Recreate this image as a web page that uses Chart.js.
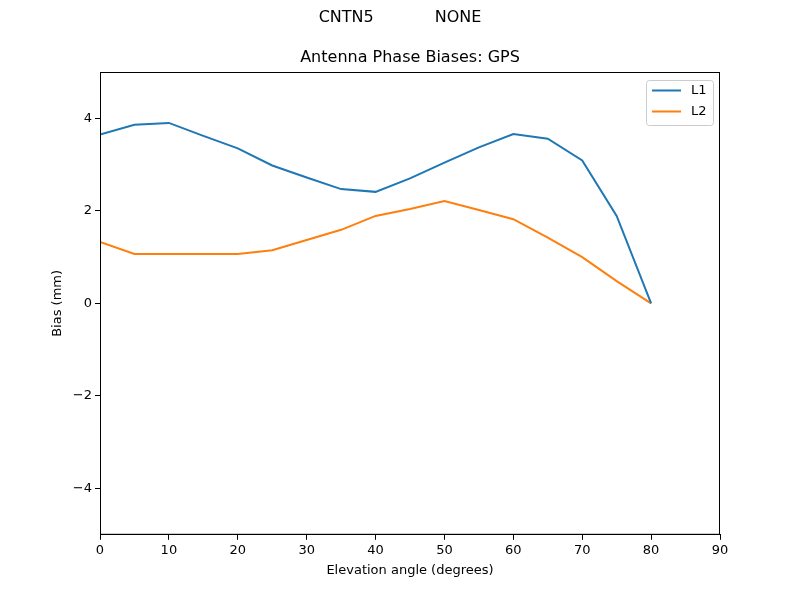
<!DOCTYPE html>
<html>
<head>
<meta charset="utf-8">
<script src="https://cdn.jsdelivr.net/npm/chart.js@4"></script>
<style>
  html, body { margin: 0; padding: 0; background: #fff; }
  #wrap { width: 800px; height: 600px; }
</style>
</head>
<body>
<div id="wrap"><canvas id="biasChart" width="800" height="600"></canvas></div>
<script>
// elevation angles (degrees)
const elevation = [0, 5, 10, 15, 20, 25, 30, 35, 40, 45, 50, 55, 60, 65, 70, 75, 80];
// phase bias values (mm)
const l1Bias = [3.65, 3.86, 3.90, 3.62, 3.35, 2.98, 2.72, 2.47, 2.41, 2.70, 3.04, 3.37, 3.66, 3.56, 3.09, 1.89, 0.0];
const l2Bias = [1.33, 1.07, 1.07, 1.07, 1.07, 1.15, 1.37, 1.59, 1.89, 2.04, 2.21, 2.02, 1.82, 1.42, 1.00, 0.48, 0.0];
const yTicks = [-4, -2, 0, 2, 4];
const suptitle = 'CNTN5            NONE';
const plotTitle = 'Antenna Phase Biases: GPS';

Chart.defaults.font.family = 'DejaVu Sans';
Chart.defaults.font.size = 13;
Chart.defaults.color = '#000';

const toPoints = vals => elevation.map((e, i) => ({ x: e, y: vals[i] }));

// matplotlib style titles, box round the axes and legend inside it
const framePlugin = {
  id: 'frame',
  afterDraw(chart) {
    const { ctx, chartArea: a, width } = chart;
    ctx.save();
    ctx.fillStyle = '#000';
    ctx.font = '16px "DejaVu Sans"';
    ctx.textAlign = 'center';
    ctx.textBaseline = 'middle';
    ctx.fillText(suptitle, width / 2, 18);
    ctx.fillText(plotTitle, (a.left + a.right) / 2, 58);

    ctx.strokeStyle = '#000';
    ctx.lineWidth = 1;
    ctx.strokeRect(a.left + 0.5, a.top + 0.5, a.right - a.left - 1, a.bottom - a.top - 1);

    const bx = a.right - 74, by = a.top + 8, bw = 67, bh = 45;
    ctx.fillStyle = 'rgba(255,255,255,0.8)';
    ctx.strokeStyle = '#cccccc';
    ctx.beginPath();
    ctx.roundRect(bx + 0.5, by + 0.5, bw, bh, 3);
    ctx.fill();
    ctx.stroke();

    ctx.textAlign = 'left';
    ctx.font = '13px "DejaVu Sans"';
    chart.data.datasets.forEach((ds, i) => {
      const y = by + 10.5 + i * 21;
      ctx.strokeStyle = ds.borderColor;
      ctx.lineWidth = 2;
      ctx.beginPath();
      ctx.moveTo(bx + 6, y);
      ctx.lineTo(bx + 35, y);
      ctx.stroke();
      ctx.fillStyle = '#000';
      ctx.fillText(ds.label, bx + 45, y);
    });
    ctx.restore();
  }
};

new Chart(document.getElementById('biasChart').getContext('2d'), {
  type: 'line',
  data: {
    datasets: [{
      label: 'L1',
      data: toPoints(l1Bias),
      borderColor: '#1f77b4',
      borderWidth: 2,
      pointRadius: 0,
      tension: 0
    }, {
      label: 'L2',
      data: toPoints(l2Bias),
      borderColor: '#ff7f0e',
      borderWidth: 2,
      pointRadius: 0,
      tension: 0
    }]
  },
  options: {
    responsive: false,
    animation: false,
    layout: { padding: { left: 50, right: 80, top: 72, bottom: 18 } },
    plugins: {
      legend: { display: false },
      tooltip: { enabled: false },
      title: { display: false }
    },
    scales: {
      x: {
        type: 'linear',
        min: 0,
        max: 90,
        ticks: { stepSize: 10, padding: 3 },
        grid: { drawOnChartArea: false, color: '#000', tickLength: 5 },
        border: { color: '#000' },
        title: { display: true, text: 'Elevation angle (degrees)', padding: { top: 1, bottom: 4 } }
      },
      y: {
        min: -5,
        max: 5,
        afterBuildTicks: axis => { axis.ticks = yTicks.map(v => ({ value: v })); },
        afterFit: axis => { axis.width = 50; },
        ticks: {
          padding: 3,
          callback: v => String(v).replace('-', '\u2212')
        },
        grid: { drawOnChartArea: false, color: '#000', tickLength: 5 },
        border: { color: '#000' },
        title: { display: true, text: 'Bias (mm)', padding: { top: 0, bottom: 4 } }
      }
    }
  },
  plugins: [framePlugin]
});
</script>
</body>
</html>
